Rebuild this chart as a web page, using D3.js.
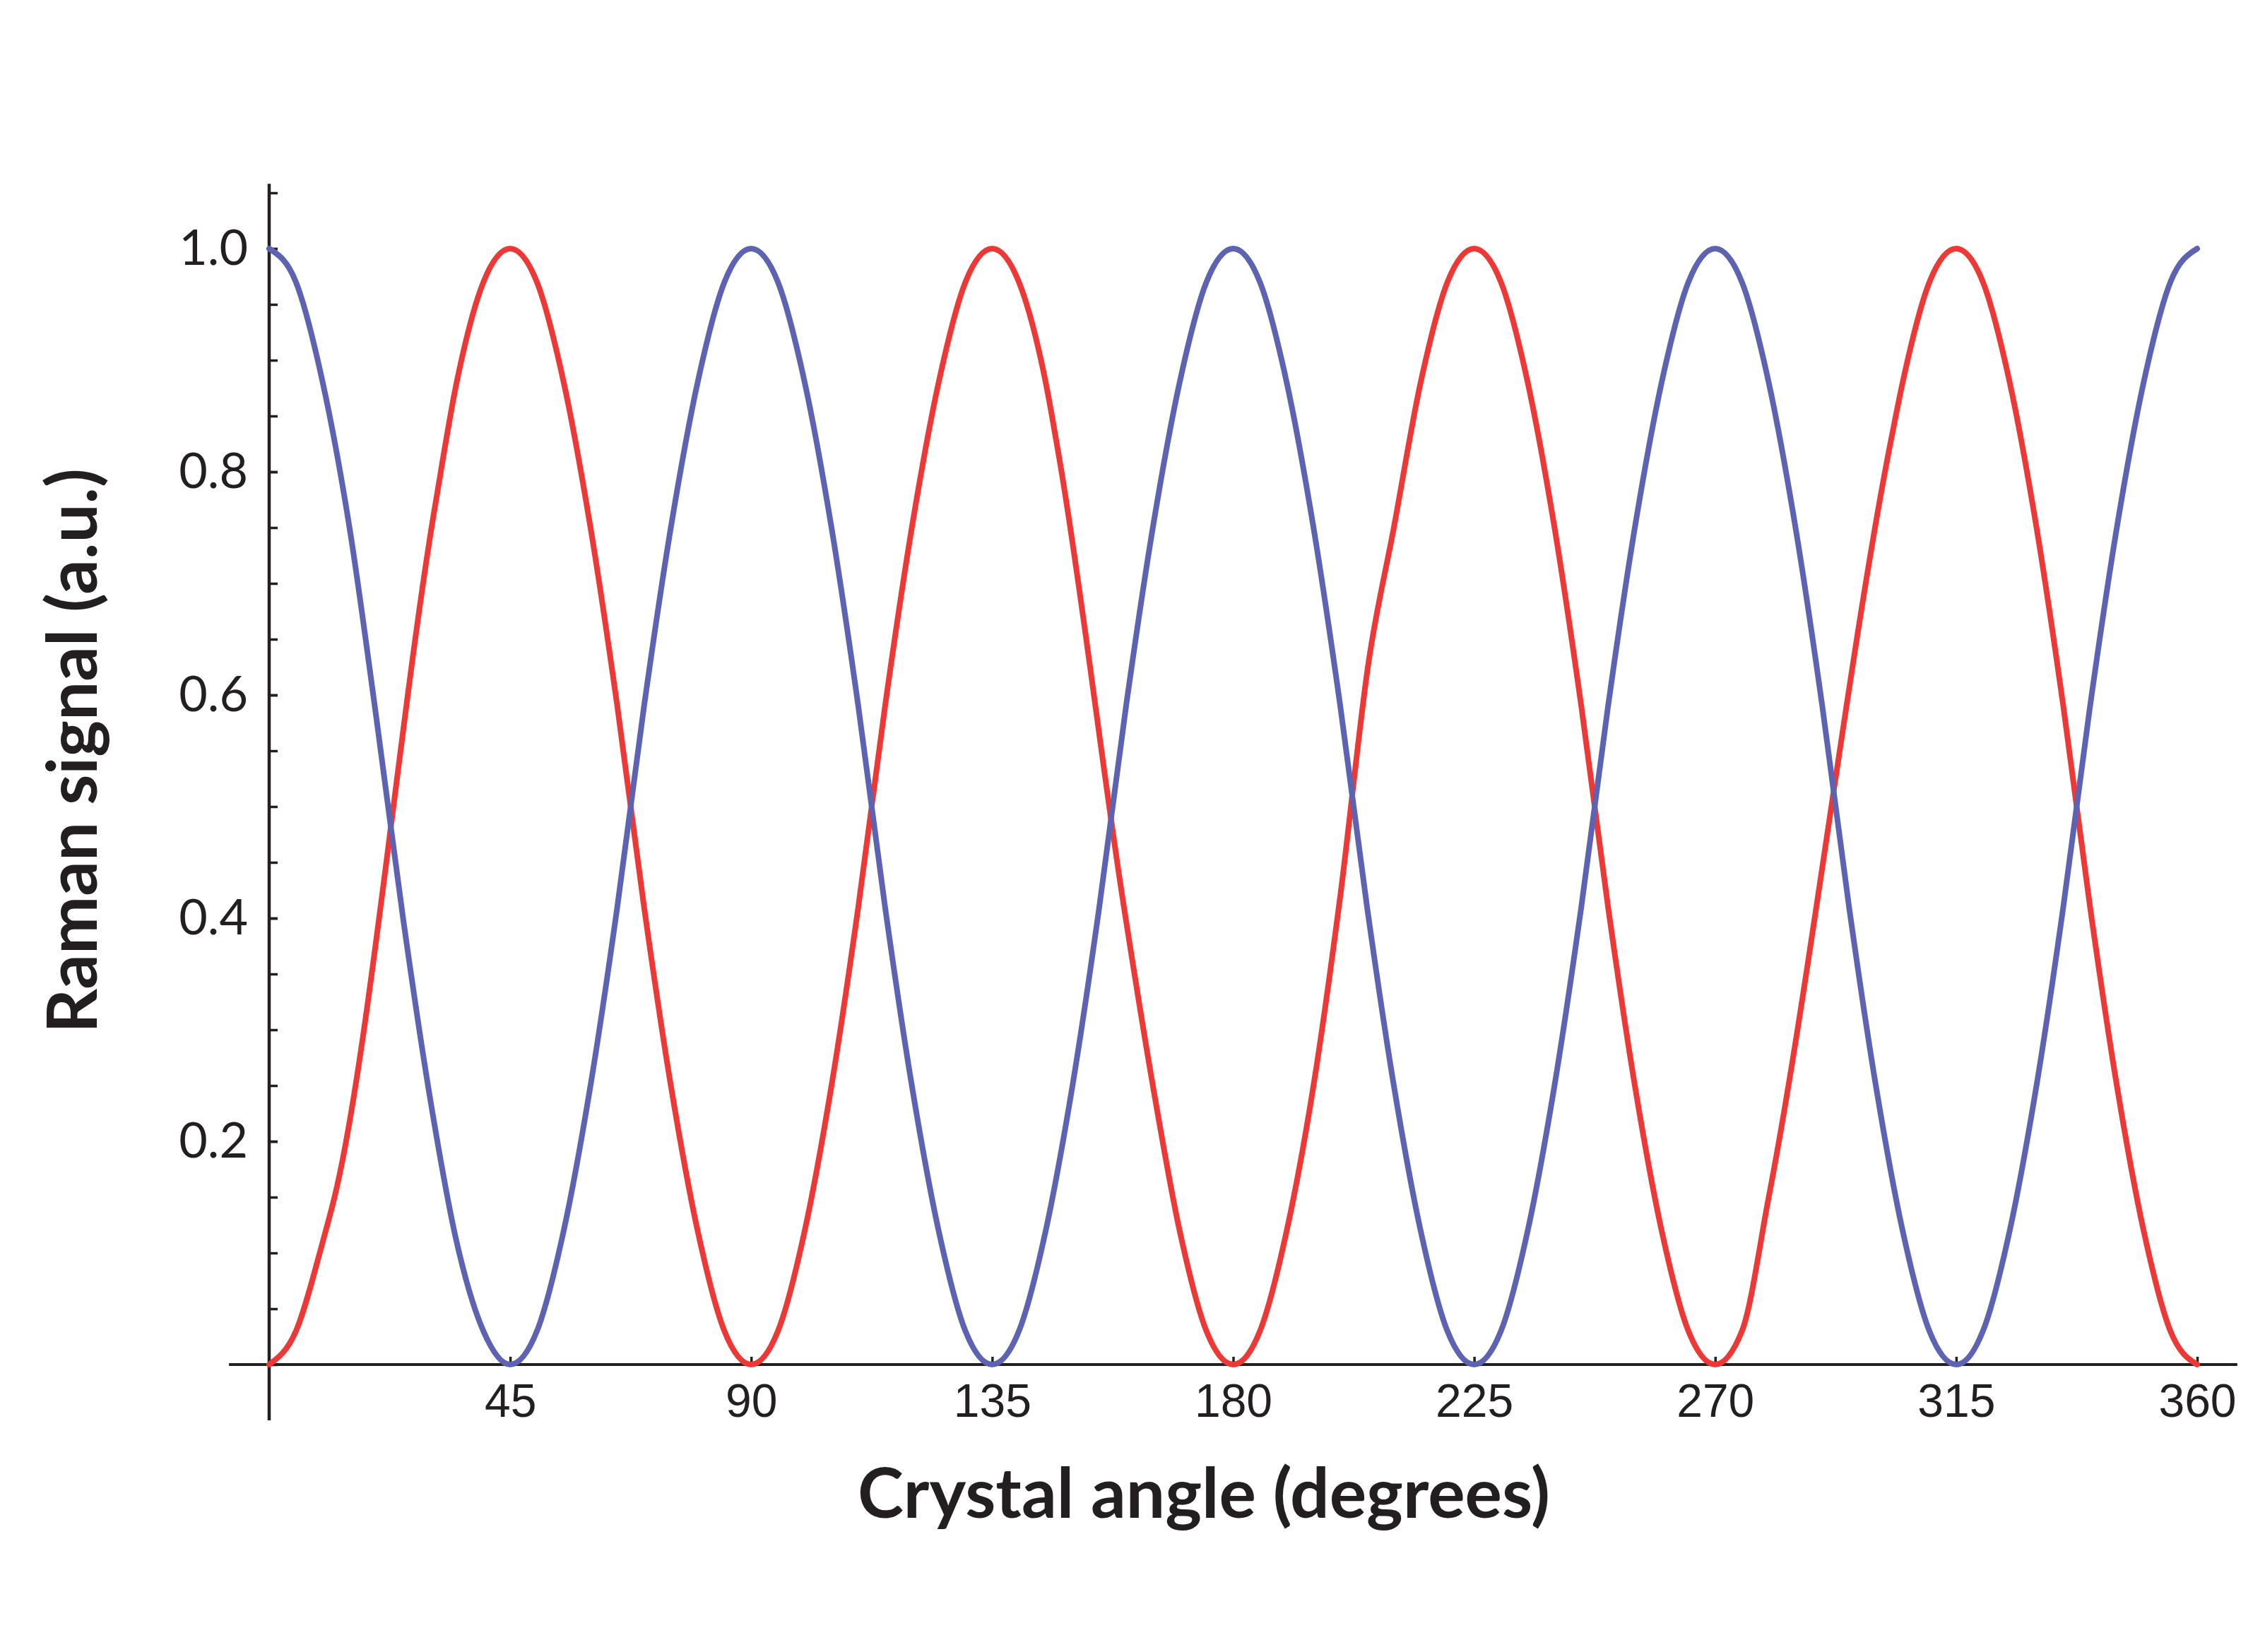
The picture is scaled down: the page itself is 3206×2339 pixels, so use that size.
<!DOCTYPE html>
<html>
<head>
<meta charset="utf-8">
<script src="https://cdn.jsdelivr.net/npm/d3@7/dist/d3.min.js"></script>
<style>
  body { margin: 0; background: #fff; }
  svg { display: block; }
</style>
</head>
<body>
<svg id="chart"></svg>
<script>
// angles in degrees
const blueAngles = [0, 5, 10, 15, 20, 25, 30, 35, 40, 45, 50, 55, 60, 65, 70, 75, 80, 85,
  90, 95, 100, 105, 110, 115, 120, 125, 130, 135, 140, 145, 150, 155, 160, 165, 170, 175,
  180, 185, 190, 195, 200, 205, 210, 215, 220, 225, 230, 235, 240, 245, 250, 255, 260, 265,
  270, 275, 280, 285, 290, 295, 300, 305, 310, 315, 320, 325, 330, 335, 340, 345, 350, 355, 360]
const blueValues = [1.00, 0.97, 0.88, 0.75, 0.58, 0.40, 0.24, 0.11, 0.03, 0.00, 0.03, 0.12, 0.25, 0.41, 0.59, 0.75, 0.88, 0.97,
  1.00, 0.97, 0.88, 0.75, 0.59, 0.41, 0.25, 0.12, 0.03, 0.00, 0.03, 0.12, 0.25, 0.41, 0.59, 0.75, 0.88, 0.97,
  1.00, 0.97, 0.88, 0.75, 0.59, 0.41, 0.25, 0.12, 0.03, 0.00, 0.03, 0.12, 0.25, 0.41, 0.59, 0.75, 0.88, 0.97,
  1.00, 0.97, 0.88, 0.75, 0.59, 0.41, 0.25, 0.12, 0.03, 0.00, 0.03, 0.12, 0.25, 0.41, 0.59, 0.75, 0.88, 0.97, 1.00]

// red trace has a few coarse (straight) stretches, so its samples are uneven
const redAngles = [0, 5, 10, 12.2, 31, 35, 40, 45, 50, 55, 60, 65, 70, 75, 80, 85,
  90, 95, 100, 105, 110, 115, 120, 125, 130, 135, 140, 145, 147.6, 159.6, 165, 170, 175,
  180, 185, 190, 195, 200, 205.3, 210, 215, 220, 225, 230, 235, 240, 245, 250, 255, 260, 265,
  270, 275, 280, 302.9, 305, 310, 315, 320, 325, 330, 335, 340, 345, 350, 355, 360]
const redValues = [0.00, 0.03, 0.11, 0.15, 0.77, 0.88, 0.97, 1.00, 0.97, 0.88, 0.75, 0.59, 0.41, 0.25, 0.12, 0.03,
  0.00, 0.03, 0.12, 0.25, 0.41, 0.59, 0.75, 0.88, 0.97, 1.00, 0.97, 0.88, 0.81, 0.41, 0.25, 0.12, 0.03,
  0.00, 0.03, 0.12, 0.25, 0.42, 0.63, 0.75, 0.88, 0.97, 1.00, 0.97, 0.88, 0.75, 0.59, 0.41, 0.25, 0.12, 0.03,
  0.00, 0.03, 0.15, 0.83, 0.88, 0.97, 1.00, 0.97, 0.88, 0.75, 0.59, 0.41, 0.25, 0.12, 0.03, 0.00]

const xTickValues = [45, 90, 135, 180, 225, 270, 315, 360]
const yMajorTicks = [0.2, 0.4, 0.6, 0.8, 1.0]
const yMinorTicks = [0, 0.05, 0.1, 0.15, 0.2, 0.25, 0.3, 0.35, 0.4, 0.45, 0.5, 0.55, 0.6, 0.65,
  0.7, 0.75, 0.8, 0.85, 0.9, 0.95, 1.0, 1.05]

const xTitle = 'Crystal angle (degrees)'
const yTitle = 'Raman signal (a.u.)'

const W = 3206
const H = 2339
const INK = '#231f20'
const BLUE = '#5b63b2'
const RED = '#ee3835'

const svg = d3.select('#chart').attr('width', W).attr('height', H)
svg.append('rect').attr('width', W).attr('height', H).attr('fill', '#fff')

const x = d3.scaleLinear().domain([0, 360]).range([381, 3110])
const y = d3.scaleLinear().domain([0, 1]).range([1932, 352])

// axis lines run a little past the data range, like the original
svg.append('line')
  .attr('x1', x(-7.5)).attr('x2', x(367.5))
  .attr('y1', y(0)).attr('y2', y(0))
  .attr('stroke', INK).attr('stroke-width', 4)
svg.append('line')
  .attr('x1', x(0)).attr('x2', x(0))
  .attr('y1', y(-0.05)).attr('y2', y(1.058))
  .attr('stroke', INK).attr('stroke-width', 4.5)

// y minor ticks (every 0.05, pointing into the plot)
const yMinor = svg.append('g')
  .attr('transform', `translate(${x(0)},0)`)
  .call(d3.axisLeft(y).tickValues(yMinorTicks).tickSizeInner(-12).tickSizeOuter(0).tickFormat(''))
yMinor.select('.domain').remove()
yMinor.selectAll('line').attr('stroke', INK).attr('stroke-width', 3.5)

const yAxis = svg.append('g')
  .attr('transform', `translate(${x(0)},0)`)
  .call(d3.axisLeft(y).tickValues(yMajorTicks).tickSizeInner(-12).tickSizeOuter(0)
    .tickPadding(30).tickFormat(d3.format('.1f')))
yAxis.select('.domain').remove()
yAxis.selectAll('line').attr('stroke', INK).attr('stroke-width', 3.5)
yAxis.selectAll('text')
  .attr('fill', INK)
  .style('font-family', 'Lato, "Noto Sans", sans-serif')
  .style('font-size', '70px')

const xAxis = svg.append('g')
  .attr('transform', `translate(0,${y(0)})`)
  .call(d3.axisBottom(x).tickValues(xTickValues).tickSizeInner(-11).tickSizeOuter(0).tickPadding(27))
xAxis.select('.domain').remove()
xAxis.selectAll('line').attr('stroke', INK).attr('stroke-width', 3.5)
xAxis.selectAll('text')
  .attr('fill', INK)
  .style('font-family', '"Liberation Sans", Arial, sans-serif')
  .style('font-size', '66px')

// curves
const redSeries = redAngles.map((a, i) => ({ a, v: redValues[i] }))
const blueSeries = blueAngles.map((a, i) => ({ a, v: blueValues[i] }))

const line = d3.line()
  .x((d) => x(d.a))
  .y((d) => y(d.v))
  .curve(d3.curveMonotoneX)

svg.append('path')
  .datum(redSeries)
  .attr('d', line)
  .attr('fill', 'none')
  .attr('stroke', RED)
  .attr('stroke-width', 8)
  .attr('stroke-linejoin', 'round')
  .attr('stroke-linecap', 'round')

svg.append('path')
  .datum(blueSeries)
  .attr('d', line)
  .attr('fill', 'none')
  .attr('stroke', BLUE)
  .attr('stroke-width', 8)
  .attr('stroke-linejoin', 'round')
  .attr('stroke-linecap', 'round')

// titles, sized to the width they take in the original
function fitText(sel, target) {
  const len = sel.node().getComputedTextLength()
  const size = parseFloat(sel.style('font-size'))
  sel.style('font-size', `${size * target / len}px`)
}

const xLabel = svg.append('text')
  .attr('x', 1704)
  .attr('y', 2149)
  .attr('text-anchor', 'middle')
  .attr('fill', INK)
  .style('font-family', 'Lato, "Noto Sans", sans-serif')
  .style('font-weight', 700)
  .style('font-size', '92px')
  .text(xTitle)
fitText(xLabel, 980)

const yLabel = svg.append('text')
  .attr('transform', 'translate(137,1063) rotate(-90)')
  .attr('text-anchor', 'middle')
  .attr('fill', INK)
  .style('font-family', 'Lato, "Noto Sans", sans-serif')
  .style('font-weight', 700)
  .style('font-size', '92px')
  .text(yTitle)
fitText(yLabel, 800)
</script>
</body>
</html>
